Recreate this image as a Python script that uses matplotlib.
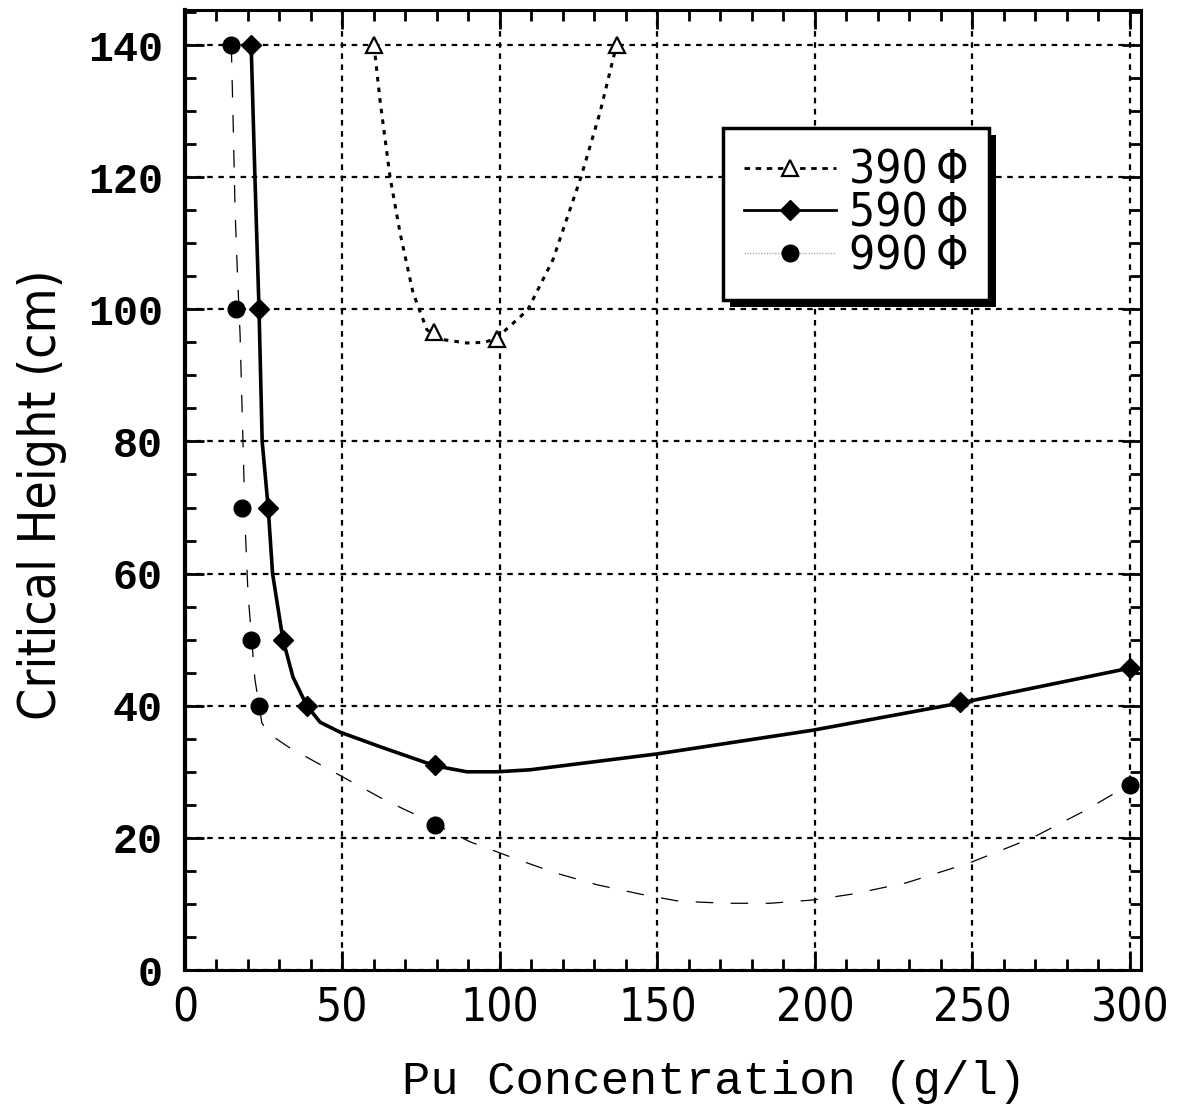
import matplotlib
matplotlib.use("Agg")
import matplotlib.pyplot as plt
from matplotlib.patches import Rectangle
from matplotlib.ticker import MultipleLocator

conc_390 = [60, 79, 99, 137]
height_390 = [140, 96.5, 95.5, 140]
curve_x_390 = [60, 61.9, 65.1, 68.3, 72.4, 76.8, 82, 89.5, 95, 99, 102.5, 106.3,
               108.9, 116.8, 125.7, 131.7, 137]
curve_y_390 = [140, 131.7, 120, 111.5, 102.5, 96.9, 95.4, 94.9, 95, 95.6, 97.2, 98.8,
               100, 107.5, 120, 129.7, 140]

# 590 phi
conc_590 = [21, 23.5, 26.4, 31.1, 38.7, 79.4, 246, 300]
height_590 = [140, 100, 70, 50, 40, 31, 40.5, 45.7]
curve_x_590 = [21, 22.2, 23.5, 24.5, 26.4, 27.8, 31.1, 34.3, 38.7, 42.9, 49.2, 61.9,
               79.4, 89.5, 99, 109.5, 149.8, 199.4, 246, 300]
curve_y_590 = [140, 120, 100, 80, 70, 60, 50, 44.3, 40, 37.5, 36, 33.8,
               30.9, 30, 30, 30.3, 32.7, 36.3, 40.4, 45.7]

# 990 phi
conc_990 = [14.6, 16.2, 18.1, 21, 23.5, 79.4, 300]
height_990 = [140, 100, 70, 50, 40, 22, 28]
curve_x_990 = [14.7, 15.3, 15.9, 16.6, 17.5, 18.4, 19.2, 20.0, 22.2, 24.4, 26.5, 33.0,
               49.0, 63.5, 76.8, 90.5, 104, 117.5, 130.8, 145.4, 157, 172, 185.7,
               199.4, 212, 229, 249, 269, 286, 296, 300]
curve_y_990 = [140, 128, 115, 106, 96, 80, 66, 57, 44, 37.4, 35.8, 33.7,
               29.5, 25.7, 22.7, 19.4, 17, 14.7, 12.9, 11.4, 10.4, 10.1, 10.1,
               10.6, 11.5, 13.2, 16.2, 20, 24.2, 27, 28.2]

labels = ["390\u2009\u03a6", "590\u2009\u03a6", "990\u2009\u03a6"]

narrow = ["DejaVu Sans"]
mono = ["Liberation Mono", "DejaVu Sans Mono"]

fig = plt.figure(figsize=(11.78, 11.05), dpi=100)
ax = fig.add_axes([185 / 1178, 1 - 970 / 1105, 956 / 1178, 960 / 1105])

# curves
ax.plot(curve_x_390, curve_y_390, color="black", lw=2.2, ls=(0, (1.5, 2)), zorder=3)
ax.plot(curve_x_590, curve_y_590, color="black", lw=2.6, ls="-", zorder=3)
ax.plot(curve_x_990, curve_y_990, color="black", lw=0.9, ls=(0, (14, 14)), zorder=3)

# markers
ax.plot(conc_390, height_390, ls="none", marker="^", ms=11, mfc="white",
        mec="black", mew=1.6, zorder=4)
ax.plot(conc_590, height_590, ls="none", marker="D", ms=10, color="black", zorder=4)
ax.plot(conc_990, height_990, ls="none", marker="o", ms=12, color="black", zorder=4)

# legend handles
h390, = ax.plot([], [], color="black", lw=2, ls=(0, (2, 2)), marker="^", ms=11,
                mfc="white", mec="black", mew=1.6)
h590, = ax.plot([], [], color="black", lw=2, ls="-", marker="D", ms=10)
h990, = ax.plot([], [], color="#aaaaaa", lw=1, ls=(0, (1, 1)), marker="o", ms=12,
                mfc="black", mec="black")

ax.set_xlim(0, 303.5)
ax.set_ylim(0, 145.3)
ax.xaxis.set_major_locator(MultipleLocator(50))
ax.xaxis.set_minor_locator(MultipleLocator(10))
ax.yaxis.set_major_locator(MultipleLocator(20))
ax.yaxis.set_minor_locator(MultipleLocator(5))

ax.grid(True, which="major", color="black", ls=(0, (2.5, 2.5)), lw=1.6)
ax.tick_params(which="both", direction="in", top=True, right=True, width=2, color="black")
ax.tick_params(which="major", length=14)
ax.tick_params(which="minor", length=8)
ax.tick_params(axis="x", pad=12)
ax.tick_params(axis="y", pad=16)
for s in ax.spines.values():
    s.set_linewidth(2.2)
ax.spines["left"].set_linewidth(3)

for t in ax.get_xticklabels():
    t.set_fontfamily(narrow)
    t.set_fontstretch("condensed")
    t.set_fontsize(33)
for t in ax.get_yticklabels():
    t.set_fontfamily(mono)
    t.set_fontweight("bold")
    t.set_fontsize(30)

ax.set_xlabel("Pu Concentration (g/l)", fontsize=34, family=mono)
ax.xaxis.set_label_coords(0.554, -0.094)
ax.set_ylabel("Critical Height (cm)", fontsize=37, family=narrow, stretch="condensed")
ax.yaxis.set_label_coords(-0.123, 0.495)

leg = ax.legend([h390, h590, h990], labels, loc="upper left",
                bbox_to_anchor=(0.563, 0.877), borderaxespad=0,
                prop={"family": narrow, "size": 33, "stretch": "condensed"},
                handlelength=2.0, handletextpad=0.3, labelspacing=-0.05,
                borderpad=0.45, fancybox=False, framealpha=1, edgecolor="black")
leg.get_frame().set_linewidth(2.5)
leg.set_zorder(10)

# drop shadow behind the legend box
fig.canvas.draw()
bb = leg.get_window_extent().transformed(ax.transAxes.inverted())
dx = 7 / 956
dy = 7 / 960
ax.add_patch(Rectangle((bb.x0 + dx, bb.y0 - dy), bb.width, bb.height,
                       transform=ax.transAxes, facecolor="black", edgecolor="none",
                       zorder=9, clip_on=False))

fig.savefig("out.png", dpi=100)
